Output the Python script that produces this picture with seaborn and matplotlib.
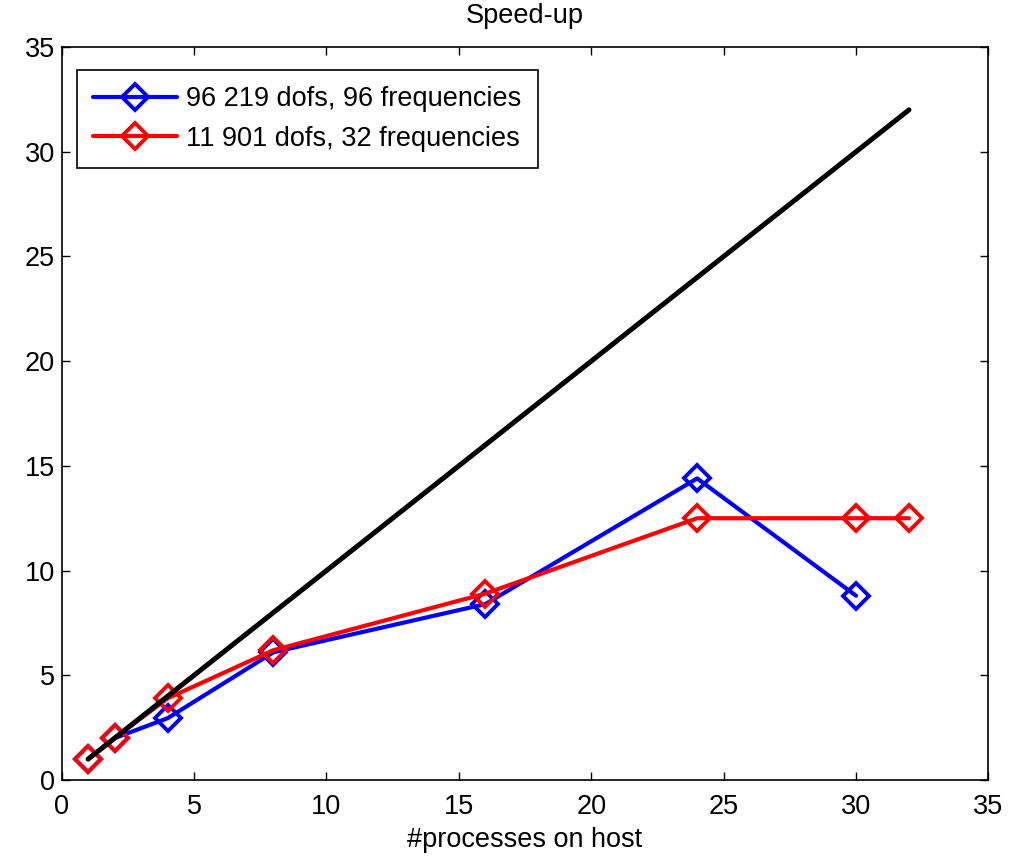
import matplotlib
matplotlib.use("Agg")
import matplotlib.pyplot as plt
import seaborn as sns
import pandas as pd

# Data
procs_a = [1, 2, 4, 8, 16, 24, 30]
speed_a = [1.0, 2.0, 2.95, 6.1, 8.4, 14.4, 8.8]
label_a = "96 219 dofs, 96 frequencies"

procs_b = [1, 2, 4, 8, 16, 24, 30, 32]
speed_b = [1.0, 2.0, 3.9, 6.2, 8.9, 12.5, 12.5, 12.5]
label_b = "11 901 dofs, 32 frequencies"

ideal_x = [1, 32]
ideal_y = [1, 32]

x_ticks = [0, 5, 10, 15, 20, 25, 30, 35]
y_ticks = [0, 5, 10, 15, 20, 25, 30, 35]

sns.set_style("white")
plt.rcParams['font.family'] = ['Liberation Sans', 'DejaVu Sans']
plt.rcParams['text.color'] = 'black'
plt.rcParams['axes.labelcolor'] = 'black'
plt.rcParams['xtick.color'] = 'black'
plt.rcParams['ytick.color'] = 'black'

fs = 19.5
fig = plt.figure(figsize=(10.19, 8.58), dpi=100)
ax = fig.add_axes([0.0605, 0.0909, 0.9095, 0.8543])

mk = dict(marker="D", markersize=13.5, markeredgewidth=2.8, markerfacecolor="none")
sns.lineplot(x=procs_a, y=speed_a, ax=ax, color="#0000ff", linewidth=3.0,
             sort=False, estimator=None, label=label_a, markeredgecolor="#0000ff", **mk)
sns.lineplot(x=procs_b, y=speed_b, ax=ax, color="#ff0000", linewidth=3.0,
             sort=False, estimator=None, label=label_b, markeredgecolor="#ff0000", **mk)
sns.lineplot(x=ideal_x, y=ideal_y, ax=ax, color="black", linewidth=3.6,
             sort=False, estimator=None, legend=False)

ax.set_xlim(0, 35)
ax.set_ylim(0, 35)
ax.set_xticks(x_ticks)
ax.set_yticks(y_ticks)
ax.tick_params(direction="in", length=6, width=1, colors="black", labelsize=fs,
               labelcolor="black", top=True, right=True, bottom=True, left=True)
ax.tick_params(axis="x", pad=10)
ax.tick_params(axis="y", pad=5)
for s in ax.spines.values():
    s.set_color("black")
    s.set_linewidth(1.2)

ax.set_title("Speed-up", fontsize=fs, pad=17, color="black")
ax.set_xlabel("#processes on host", fontsize=fs, labelpad=5, color="black")
ax.set_ylabel("")

leg = ax.legend(loc="upper left", bbox_to_anchor=(15 / 927, 1 - 23 / 733), borderaxespad=0,
                fontsize=fs, frameon=True, fancybox=False, framealpha=1,
                edgecolor="black", handlelength=3.1, handletextpad=0.35,
                borderpad=0.6, labelspacing=0.5)
leg.get_frame().set_linewidth(1.2)
for t in leg.get_texts():
    t.set_color("black")

fig.savefig("out.png", dpi=100, facecolor="white")
